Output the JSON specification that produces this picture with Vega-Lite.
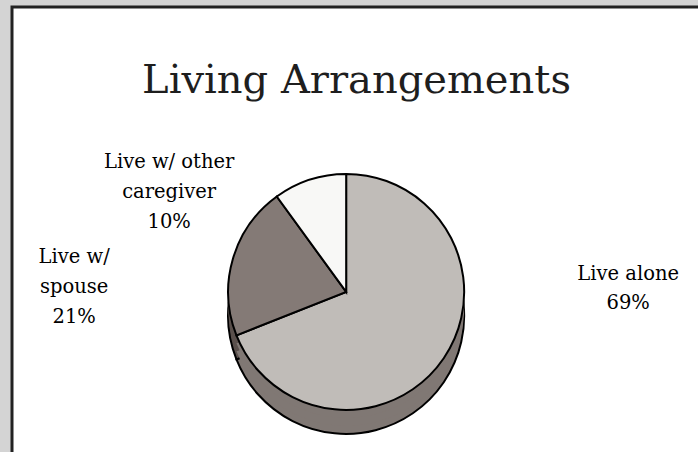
{
  "$schema": "https://vega.github.io/schema/vega-lite/v6.json",
  "width": 689,
  "height": 448,
  "autosize": {"type": "none"},
  "padding": {"left": 12, "top": 7, "right": -3, "bottom": -3},
  "background": "#d4d4d4",
  "view": {"fill": "white", "stroke": "#222222", "strokeWidth": 3},
  "config": {
    "font": "DejaVu Serif"
  },
  "title": {
    "text": "Living Arrangements",
    "font": "DejaVu Serif",
    "fontSize": 40,
    "fontWeight": "normal",
    "color": "#1e1e1e",
    "anchor": "middle",
    "offset": -126,
    "baseline": "alphabetic"
  },
  "params": [
    {"name": "cx", "expr": "width * 0.485"},
    {"name": "cy", "expr": "height * 0.636"}
  ],
  "data": {
    "values": [
      {"category": "Live alone", "percent": 69, "label": "Live alone\n69%"},
      {"category": "Live w/ spouse", "percent": 21, "label": "Live w/\nspouse\n21%"},
      {"category": "Live w/ other caregiver", "percent": 10, "label": "Live w/ other\ncaregiver\n10%"}
    ]
  },
  "layer": [
    {
      "mark": {"type": "arc", "outerRadius": 118, "x": {"expr": "cx"}, "y": {"expr": "cy + 24"}, "stroke": "black", "strokeWidth": 2},
      "encoding": {
        "theta": {"field": "percent", "type": "quantitative", "stack": true},
        "order": {"field": "percent", "sort": "descending"},
        "color": {
          "field": "category", "type": "nominal", "legend": null,
          "scale": {"domain": ["Live alone", "Live w/ spouse", "Live w/ other caregiver"], "range": ["#807874", "#5a504c", "#c8c4c0"]}
        }
      }
    },
    {
      "mark": {"type": "arc", "outerRadius": 118, "x": {"expr": "cx"}, "y": {"expr": "cy + 16"}, "strokeWidth": 0},
      "encoding": {
        "theta": {"field": "percent", "type": "quantitative", "stack": true},
        "order": {"field": "percent", "sort": "descending"},
        "color": {
          "field": "category", "type": "nominal", "legend": null,
          "scale": {"domain": ["Live alone", "Live w/ spouse", "Live w/ other caregiver"], "range": ["#807874", "#5a504c", "#c8c4c0"]}
        }
      }
    },
    {
      "mark": {"type": "arc", "outerRadius": 118, "x": {"expr": "cx"}, "y": {"expr": "cy + 8"}, "strokeWidth": 0},
      "encoding": {
        "theta": {"field": "percent", "type": "quantitative", "stack": true},
        "order": {"field": "percent", "sort": "descending"},
        "color": {
          "field": "category", "type": "nominal", "legend": null,
          "scale": {"domain": ["Live alone", "Live w/ spouse", "Live w/ other caregiver"], "range": ["#807874", "#5a504c", "#c8c4c0"]}
        }
      }
    },
    {
      "mark": {"type": "arc", "outerRadius": 118, "x": {"expr": "cx"}, "y": {"expr": "cy"}, "stroke": "black", "strokeWidth": 2},
      "encoding": {
        "theta": {"field": "percent", "type": "quantitative", "stack": true},
        "order": {"field": "percent", "sort": "descending"},
        "color": {
          "field": "category", "type": "nominal", "legend": null,
          "scale": {"domain": ["Live alone", "Live w/ spouse", "Live w/ other caregiver"], "range": ["#c0bcb8", "#847a76", "#f8f8f6"]}
        }
      }
    },
    {
      "transform": [{"filter": "datum.category == 'Live alone'"}],
      "mark": {"type": "text", "x": {"expr": "cx"}, "y": {"expr": "cy"}, "dx": 282, "dy": -18, "fontSize": 19.5, "lineHeight": 29, "lineBreak": "\n", "align": "center", "baseline": "middle", "color": "black"},
      "encoding": {"text": {"field": "label", "type": "nominal"}}
    },
    {
      "transform": [{"filter": "datum.category == 'Live w/ spouse'"}],
      "mark": {"type": "text", "x": {"expr": "cx"}, "y": {"expr": "cy"}, "dx": -272, "dy": -35, "fontSize": 19.5, "lineHeight": 30, "lineBreak": "\n", "align": "center", "baseline": "middle", "color": "black"},
      "encoding": {"text": {"field": "label", "type": "nominal"}}
    },
    {
      "transform": [{"filter": "datum.category == 'Live w/ other caregiver'"}],
      "mark": {"type": "text", "x": {"expr": "cx"}, "y": {"expr": "cy"}, "dx": -177, "dy": -130, "fontSize": 19.5, "lineHeight": 30, "lineBreak": "\n", "align": "center", "baseline": "middle", "color": "black"},
      "encoding": {"text": {"field": "label", "type": "nominal"}}
    }
  ],
  "resolve": {"scale": {"color": "independent"}}
}
